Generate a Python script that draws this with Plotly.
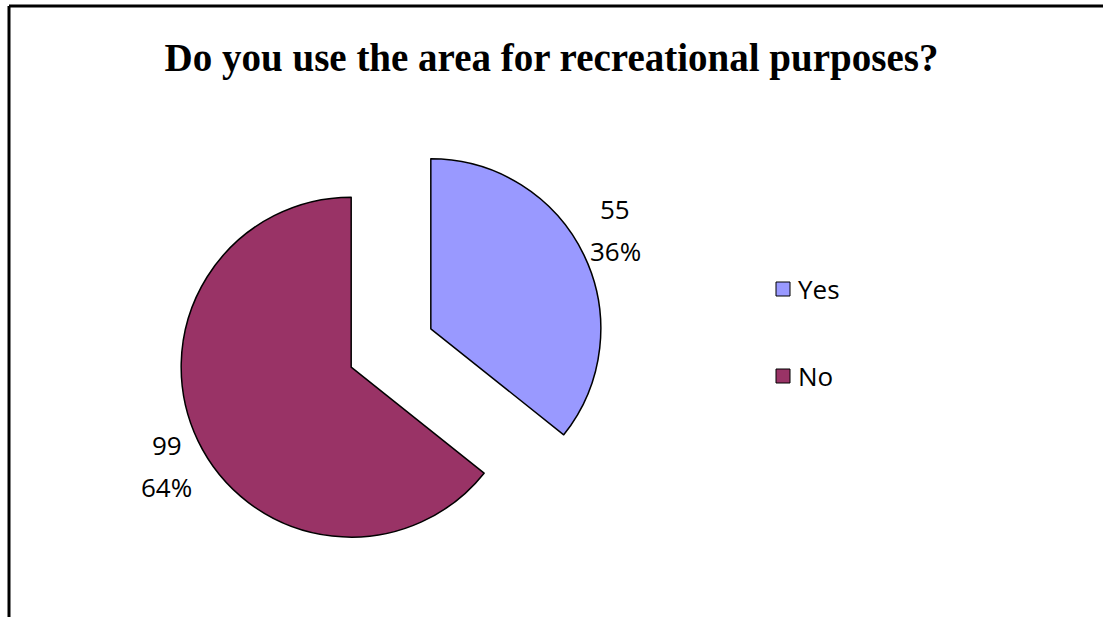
import math
import plotly.graph_objects as go

# Survey answers
labels = ["Yes", "No"]
counts = [55, 99]
colors = ["#9999FF", "#993366"]

W, H = 1103, 617

# Pie geometry in pixels
cx, cy = 391, 348
radius = 170
pull = 0.26
half = radius * (1 + pull)

# Data-label placement: distance (in radii) from each slice tip and a
# slight counter-clockwise turn from the slice's bisector
label_dist = 1.23
label_turn = math.radians(2.5)

fig = go.Figure()

fig.add_trace(go.Pie(
    labels=labels,
    values=counts,
    sort=False,
    direction="clockwise",
    rotation=0,
    pull=[pull] * len(labels),
    marker=dict(colors=colors, line=dict(color="#000000", width=1.5)),
    textinfo="none",
    showlegend=False,
    hoverinfo="label+value+percent",
    domain=dict(x=[(cx - half) / W, (cx + half) / W],
                y=[1 - (cy + half) / H, 1 - (cy - half) / H]),
))

shapes = []
annotations = []

# Data labels (value and percentage) just outside each slice
total = sum(counts)
cum = 0
for val in counts:
    mid = (cum + val / 2) / total * 2 * math.pi
    cum += val
    dx, dy = math.sin(mid), -math.cos(mid)
    ax = cx + pull * radius * dx
    ay = cy + pull * radius * dy
    ang = mid - label_turn
    lx = ax + label_dist * radius * math.sin(ang)
    ly = ay - label_dist * radius * math.cos(ang)
    pct = round(100 * val / total)
    for txt, shift in ((str(val), 21), (f"{pct}%", -21)):
        annotations.append(dict(
            xref="paper", yref="paper", x=lx / W, y=1 - ly / H,
            text=txt, showarrow=False, xanchor="center", yanchor="middle",
            yshift=shift,
            font=dict(family="Open Sans", size=26, color="#000000"),
        ))

# Legend drawn as boxes + labels
legend_x = 776
legend_rows = [289, 376]
for lab, col, ypx in zip(labels, colors, legend_rows):
    shapes.append(dict(
        type="rect", xref="paper", yref="paper",
        x0=legend_x / W, x1=(legend_x + 14) / W,
        y0=1 - (ypx + 7) / H, y1=1 - (ypx - 7) / H,
        fillcolor=col, line=dict(color="#000000", width=1),
    ))
    annotations.append(dict(
        xref="paper", yref="paper", x=(legend_x + 20) / W, y=1 - ypx / H,
        text=lab, showarrow=False, xanchor="left", yanchor="middle",
        font=dict(family="Open Sans", size=26, color="#000000"),
    ))

# Chart frame (left and top edges)
shapes.append(dict(type="line", xref="paper", yref="paper",
                   x0=9 / W, x1=9 / W, y0=0, y1=1 - 6 / H,
                   line=dict(color="#000000", width=3)))
shapes.append(dict(type="line", xref="paper", yref="paper",
                   x0=9 / W, x1=1, y0=1 - 6 / H, y1=1 - 6 / H,
                   line=dict(color="#000000", width=3)))

fig.update_layout(
    width=W, height=H,
    margin=dict(l=0, r=0, t=0, b=0),
    paper_bgcolor="#FFFFFF",
    plot_bgcolor="#FFFFFF",
    title=dict(
        text="<b>Do you use the area for recreational purposes?</b>",
        x=0.5, xanchor="center", xref="paper",
        y=1 - 57 / H, yanchor="middle", yref="paper",
        font=dict(family="Liberation Serif", size=39, color="#000000"),
    ),
    shapes=shapes,
    annotations=annotations,
)

fig.write_html("out.html")
